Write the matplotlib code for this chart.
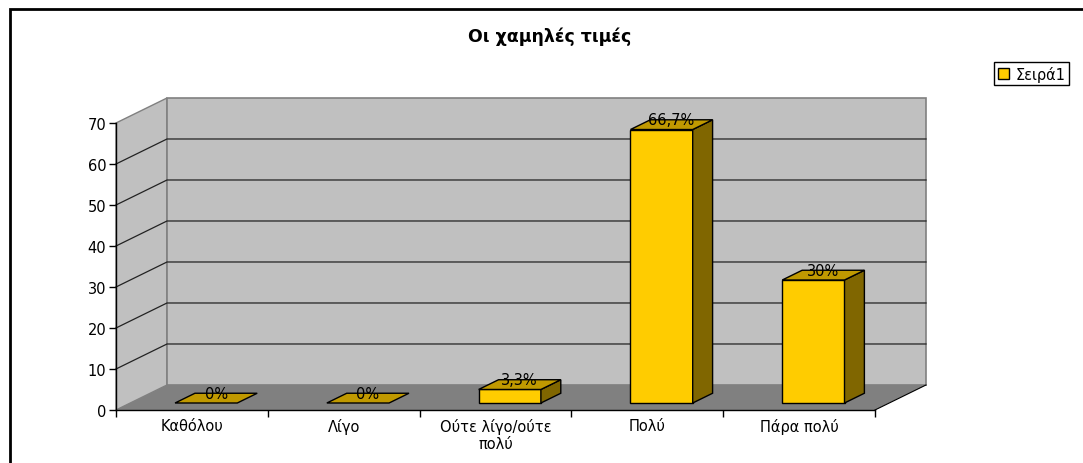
import matplotlib
matplotlib.use('Agg')
import matplotlib.pyplot as plt
from matplotlib.patches import Polygon, Patch, Rectangle

# the reference text is drawn wide, DejaVu Sans is the widest face we have
plt.rcParams['font.family'] = ['DejaVu Sans']

# data
categories = ['Καθόλου', 'Λίγο', 'Ούτε λίγο/ούτε\nπολύ', 'Πολύ', 'Πάρα πολύ']
values = [0, 0, 3.3, 66.7, 30]
labels = ['0%', '0%', '3,3%', '66,7%', '30%']
yticks = [0, 10, 20, 30, 40, 50, 60, 70]
series_name = 'Σειρά1'
title = 'Οι χαμηλές τιμές'

# 3d look (oblique projection) - depth offsets in data units
DX = 0.336   # full depth in category units
DY = 6.1     # full depth in value units
Z0, Z1 = 0.28, 0.67   # bar depth range
BW = 0.41    # bar width
YMAX = 70
FS = 10.5


def P(x, y, z):
    return (x + z * DX, y + z * DY)


W, H = 1083, 464
fig = plt.figure(figsize=(W / 100, H / 100), dpi=100)
ax = fig.add_axes([116 / W, (H - 411) / H, (875 - 116) / W, (411 - 124) / H])
ax.set_xlim(0, len(categories))
ax.set_ylim(0, YMAX)
ax.patch.set_visible(False)

n = len(categories)

# walls and floor
side = Polygon([P(0, 0, 0), P(0, YMAX, 0), P(0, YMAX, 1), P(0, 0, 1)],
               facecolor='#C0C0C0', edgecolor='#808080', lw=1, clip_on=False, zorder=1)
back = Polygon([P(0, 0, 1), P(n, 0, 1), P(n, YMAX, 1), P(0, YMAX, 1)],
               facecolor='#C0C0C0', edgecolor='#808080', lw=1.2, clip_on=False, zorder=1)
floor = Polygon([P(0, 0, 0), P(n, 0, 0), P(n, 0, 1), P(0, 0, 1)],
                facecolor='#808080', edgecolor='none', clip_on=False, zorder=1)
for p in (side, back, floor):
    ax.add_patch(p)
ax.plot(*zip(P(n, 0, 0), P(n, 0, 1)), color='black', lw=0.8, clip_on=False, zorder=2)

# gridlines
for v in yticks[1:-1]:
    ax.plot(*zip(P(0, v, 0), P(0, v, 1), P(n, v, 1)), color='#222222', lw=0.9,
            clip_on=False, zorder=2)

# bars
for i, (v, lab) in enumerate(zip(values, labels)):
    x0 = i + 0.5 - BW / 2
    x1 = i + 0.5 + BW / 2
    front = [P(x0, 0, Z0), P(x1, 0, Z0), P(x1, v, Z0), P(x0, v, Z0)]
    top = [P(x0, v, Z0), P(x1, v, Z0), P(x1, v, Z1), P(x0, v, Z1)]
    right = [P(x1, 0, Z0), P(x1, 0, Z1), P(x1, v, Z1), P(x1, v, Z0)]
    if v > 0:
        ax.add_patch(Polygon(front, facecolor='#FFCC00', edgecolor='black', lw=1,
                             clip_on=False, zorder=3))
        ax.add_patch(Polygon(right, facecolor='#806600', edgecolor='black', lw=1,
                             clip_on=False, zorder=3))
    ax.add_patch(Polygon(top, facecolor='#C09900', edgecolor='black', lw=1,
                         clip_on=False, zorder=3))
    cx, cy = P(i + 0.5, v, (Z0 + Z1) / 2)
    ax.text(cx, cy + 1.2, lab, ha='center', va='center', fontsize=FS,
            color='black', zorder=5)

# axes
ax.spines[['top', 'right']].set_visible(False)
ax.spines['left'].set_linewidth(1)
ax.spines['bottom'].set_linewidth(1)
ax.spines['left'].set_zorder(4)
ax.spines['bottom'].set_zorder(4)
ax.set_yticks(yticks)
ax.tick_params(axis='y', direction='out', length=5, width=1, labelsize=FS, pad=2)
ax.set_xticks(range(n + 1))
ax.set_xticklabels([])
ax.set_xticks([i + 0.5 for i in range(n)], minor=True)
ax.set_xticklabels(categories, minor=True, fontsize=FS, linespacing=1.15)
ax.tick_params(axis='x', which='major', direction='out', length=5, width=1)
ax.tick_params(axis='x', which='minor', length=0, pad=6)

fig.text(550 / W, 1 - 37 / H, title, ha='center', va='center', fontsize=12.5,
         fontweight='bold')

leg = fig.legend(handles=[Patch(facecolor='#FFCC00', edgecolor='black', lw=1)],
                 labels=[series_name], loc='upper left',
                 bbox_to_anchor=(994 / W, 1 - 63 / H), borderaxespad=0,
                 fancybox=False, edgecolor='black', framealpha=1, fontsize=FS,
                 handlelength=0.8, handleheight=0.7, handletextpad=0.4,
                 borderpad=0.25)
leg.get_frame().set_linewidth(1)

# chart area border
fig.add_artist(Rectangle((9.5 / W, -0.1), 1.1, 1.1 - 10 / H,
                         transform=fig.transFigure, fill=False,
                         edgecolor='black', lw=2))

fig.savefig('out.png', dpi=100)
